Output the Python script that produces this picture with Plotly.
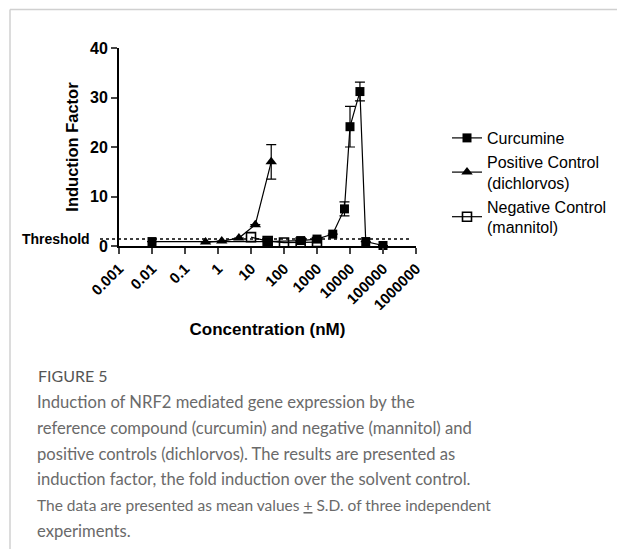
import plotly.graph_objects as go

# ---- data ----
curc_x = [0.01, 32, 320, 1000, 3000, 6800, 10000, 20000, 30000, 100000]
curc_y = [0.9, 0.9, 1.1, 1.4, 2.4, 7.5, 24.1, 31.2, 0.9, 0.1]
curc_err = [0, 0, 0, 0, 0, 1.4, 4.1, 1.9, 0, 0]

pos_x = [0.42, 1.3, 4.3, 13.5, 41]
pos_y = [0.8, 1.0, 1.6, 4.3, 17.0]
pos_err = [0, 0, 0, 0, 3.5]

neg_x = [10, 32, 100, 320, 1000]
neg_y = [1.8, 1.0, 0.7, 0.7, 0.8]

threshold = 1.4

tick_vals = [0.001, 0.01, 0.1, 1, 10, 100, 1000, 10000, 100000, 1000000]
tick_text = ["0.001", "0.01", "0.1", "1", "10", "100", "1000", "10000", "100000", "1000000"]

caption_title = "FIGURE 5"
caption_lines = [
    "Induction of NRF2 mediated gene expression by the",
    "reference compound (curcumin) and negative (mannitol) and",
    "positive controls (dichlorvos). The results are presented as",
    "induction factor, the fold induction over the solvent control.",
    "The data are presented as mean values <u>+</u> S.D. of three independent",
    "experiments.",
]
caption_sizes = [16.6, 16.6, 16.6, 16.6, 15.5, 16.6]

# ---- layout geometry ----
W, H = 617, 549
L, R, T, B = 119, 201, 48, 303
PW, PH = W - L - R, H - T - B


def px(xp):
    return (xp - L) / PW


def py(yp):
    return 1 - (yp - T) / PH


fig = go.Figure()

line = dict(color="black", width=1.2)
fig.add_trace(go.Scatter(
    x=curc_x, y=curc_y, name="Curcumine", mode="lines+markers",
    line=line, marker=dict(symbol="square", size=9, color="black"),
    error_y=dict(type="data", array=curc_err, color="black", thickness=1.2, width=5),
    cliponaxis=False,
))
fig.add_trace(go.Scatter(
    x=pos_x, y=pos_y, name="Positive Control<br>(dichlorvos)", mode="lines+markers",
    line=line, marker=dict(symbol="triangle-up", size=10, color="black"),
    error_y=dict(type="data", array=pos_err, color="black", thickness=1.2, width=5),
    cliponaxis=False,
))
fig.add_trace(go.Scatter(
    x=neg_x, y=neg_y, name="Negative Control<br>(mannitol)", mode="lines+markers",
    line=line, marker=dict(symbol="square-open", size=9, color="black", line=dict(width=1.6)),
    cliponaxis=False,
))

# threshold dotted line
fig.add_shape(type="line", xref="paper", yref="y", x0=px(100), x1=px(412),
              y0=threshold, y1=threshold, line=dict(color="black", width=1.5, dash="dot"))

fig.add_annotation(xref="paper", yref="y", x=px(92), y=threshold, text="<b>Threshold</b>",
                   showarrow=False, xanchor="right", yanchor="middle",
                   font=dict(family="Liberation Sans", size=14, color="black"))

# caption
fig.add_annotation(xref="paper", yref="paper", x=px(36), y=py(375), text=caption_title,
                   showarrow=False, xanchor="left", yanchor="middle",
                   font=dict(family="Lato", size=16, color="#555555"))
for i, ln in enumerate(caption_lines):
    fig.add_annotation(xref="paper", yref="paper", x=px(35), y=py(402 + i * 25.8), text=ln,
                       showarrow=False, xanchor="left", yanchor="middle",
                       font=dict(family="Lato", size=caption_sizes[i], color="#6a6a6a"))

# frame lines (top and left)
fig.add_shape(type="line", xref="paper", yref="paper", x0=px(10), x1=px(617), y0=py(9.5), y1=py(9.5),
              line=dict(color="#d0d0d0", width=1.5))
fig.add_shape(type="line", xref="paper", yref="paper", x0=px(10), x1=px(10), y0=py(9.5), y1=py(549),
              line=dict(color="#d0d0d0", width=1.5))

fig.update_xaxes(type="log", range=[-3, 6], tickvals=tick_vals, ticktext=tick_text,
                 tickangle=-45, ticks="outside", ticklen=6, tickwidth=2, showline=True,
                 linecolor="black", linewidth=2, showgrid=False, zeroline=False,
                 tickfont=dict(family="Liberation Sans", size=15, color="black", weight="bold"),
                 title=dict(text="<b>Concentration (nM)</b>", standoff=11,
                            font=dict(family="Liberation Sans", size=17, color="black")))
fig.update_yaxes(range=[0, 40], tickvals=[0, 10, 20, 30, 40], ticks="outside", ticklen=6,
                 tickwidth=2, showline=True, linecolor="black", linewidth=2, showgrid=False,
                 zeroline=False,
                 tickfont=dict(family="Liberation Sans", size=16, color="black", weight="bold"),
                 title=dict(text="<b>Induction Factor</b>", standoff=7,
                            font=dict(family="Liberation Sans", size=16.5, color="black")))

fig.update_layout(
    width=W, height=H, margin=dict(l=L, r=R, t=T, b=B, autoexpand=False),
    plot_bgcolor="white", paper_bgcolor="white",
    legend=dict(x=px(447), y=py(121), xanchor="left", yanchor="top",
                font=dict(family="Liberation Sans", size=16, color="black"),
                tracegroupgap=4, itemwidth=30),
    showlegend=True,
)

fig.write_html("out.html", post_script="document.body.style.margin='0';",
               config={"displayModeBar": False})
